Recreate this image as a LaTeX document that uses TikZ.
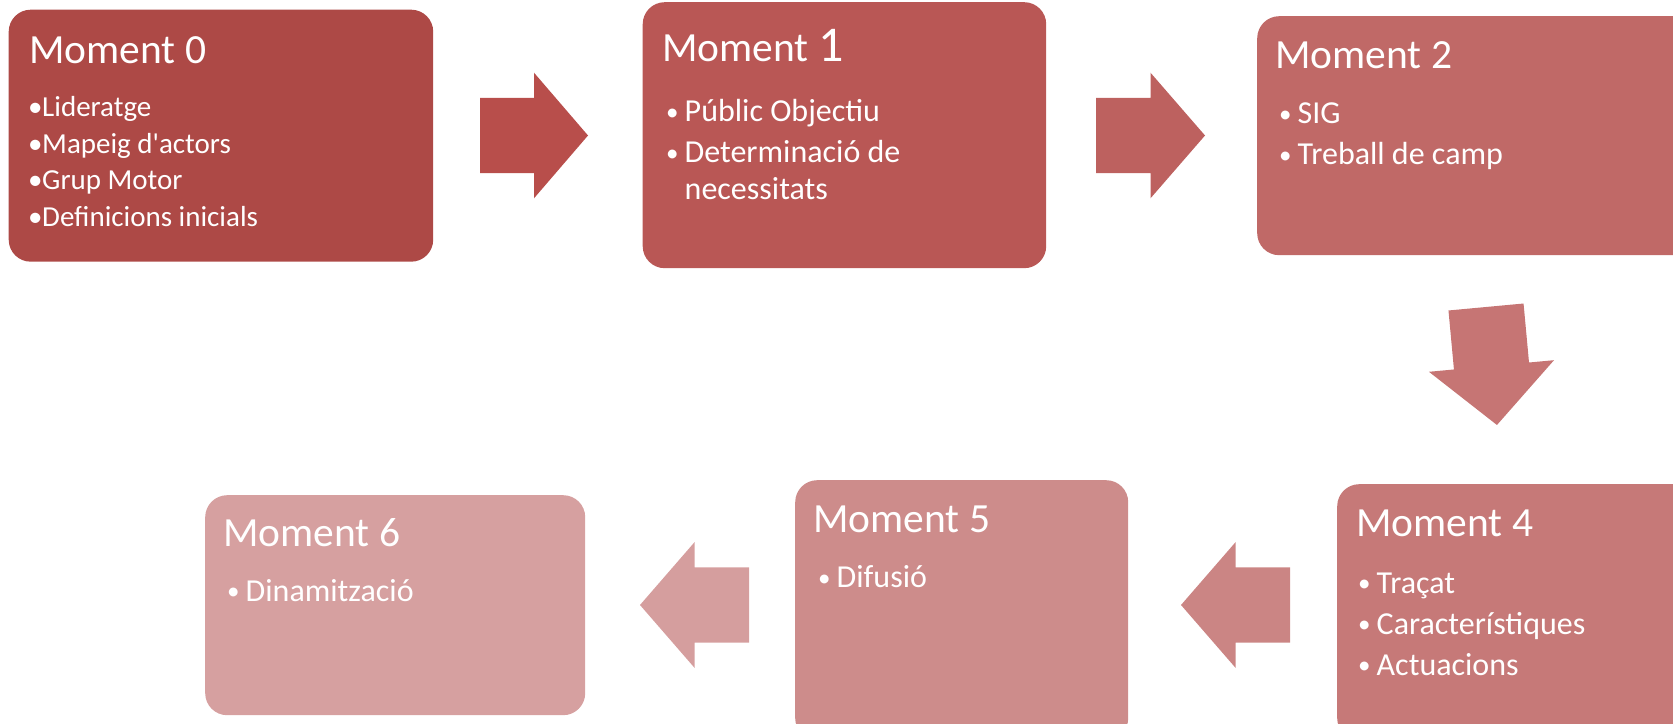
\documentclass[tikz,border=0pt]{standalone}
\usepackage{fontspec}
\setmainfont{Carlito}
\usetikzlibrary{positioning}
\usetikzlibrary{calc}

\newcommand{\itm}{\makebox[18.5pt][l]{\raisebox{1.8pt}{\fontsize{25}{25}\selectfont •}}}
\newcommand{\itmtight}{\makebox[14pt][l]{•}}

\begin{document}
\begin{tikzpicture}[
        x=1pt, y=1pt,
        moment/.style={rectangle, rounded corners=22pt, anchor=north west, inner sep=0pt},
        title/.style={anchor=base west, inner sep=0pt, text=white, font=\fontsize{41.5}{50}\selectfont},
        items/.style={anchor=base west, inner sep=0pt, text=white, align=left, font=\fontsize{32}{37}\selectfont},
        pics/blockarrow/.style={code={
            \fill (0,-37.7) -- (#1/2,-37.7) -- (#1/2,-62.8) -- (#1,0) -- (#1/2,62.8) -- (#1/2,37.7) -- (0,37.7) -- cycle;
        }},
    ]
        \definecolor{Mzero}{RGB}{173,73,70}
        \definecolor{Aone}{RGB}{184,78,75}
        \definecolor{Mone}{RGB}{185,87,85}
        \definecolor{Atwo}{RGB}{189,97,95}
        \definecolor{Mtwo}{RGB}{192,105,103}
        \definecolor{Athree}{RGB}{198,117,116}
        \definecolor{Mfour}{RGB}{198,121,120}
        \definecolor{Afive}{RGB}{203,133,132}
        \definecolor{Mfive}{RGB}{205,140,139}
        \definecolor{Asix}{RGB}{213,158,158}
        \definecolor{Msix}{RGB}{214,160,160}

        \useasboundingbox (0,0) rectangle (1673,723);
        \clip (0,0) rectangle (1673,723);

        % Top row (list nodes sit on the baseline of their last line)
        \node[moment, fill=Mzero, minimum width=424.5pt, minimum height=252pt] (m0) at (8.5,713.5) {};
        \node[title] (t0) at ([shift={(20.5,-53.8)}]m0.north west) {Moment 0};
        \node[items, font=\fontsize{29}{36.7}\selectfont] (l0) at ([shift={(19.5,-217.2)}]m0.north west) {\itmtight Lideratge\\ \itmtight Mapeig d\textquotesingle actors\\ \itmtight Grup Motor\\ \itmtight Definicions inicials};

        \node[moment, fill=Mone, minimum width=403.5pt, minimum height=266pt] (m1) at (642.5,721) {};
        \node[title] (t1) at ([shift={(19.5,-59.7)}]m1.north west) {Moment {\fontsize{50}{50}\selectfont 1}};
        \node[items] (l1) at ([shift={(23.5,-198)}]m1.north west) {\itm Públic Objectiu\\[4pt] \itm Determinació de\\ \hspace*{18.5pt}necessitats};

        \node[moment, fill=Mtwo, minimum width=443pt, minimum height=239pt] (m2) at (1257,707) {};
        \node[title] (t2) at ([shift={(18,-53)}]m2.north west) {Moment 2};
        \node[items] (l2) at ([shift={(22,-149)}]m2.north west) {\itm SIG\\[4pt] \itm Treball de camp};

        % Bottom row
        \node[moment, fill=Mfour, minimum width=363pt, minimum height=256pt] (m4) at (1337,239) {};
        \node[title] (t4) at ([shift={(19,-53)}]m4.north west) {Moment 4};
        \node[items] (l4) at ([shift={(21,-191)}]m4.north west) {\itm Traçat\\[4pt] \itm Característiques\\[4pt] \itm Actuacions};

        \node[moment, fill=Mfive, minimum width=333pt, minimum height=260pt] (m5) at (795,243) {};
        \node[title] (t5) at ([shift={(18,-53)}]m5.north west) {Moment 5};
        \node[items] (l5) at ([shift={(23,-108)}]m5.north west) {\itm Difusió};

        \node[moment, fill=Msix, minimum width=380pt, minimum height=220pt] (m6) at (205,228) {};
        \node[title] (t6) at ([shift={(18,-51.7)}]m6.north west) {Moment 6};
        \node[items] (l6) at ([shift={(22,-106.7)}]m6.north west) {\itm Dinamització};

        % Arrows
        \pic[fill=Aone] (a1) at (480,587.5) {blockarrow=108};
        \pic[fill=Atwo] (a2) at (1096,587.5) {blockarrow=109};
        \pic[fill=Athree, rotate=-84.7] (a3) at (1486,416) {blockarrow=118.5};
        \pic[fill=Afive, rotate=180] (a5) at (1290,118) {blockarrow=109};
        \pic[fill=Asix, rotate=180] (a6) at (749,118) {blockarrow=109};
    \end{tikzpicture}
\end{document}
